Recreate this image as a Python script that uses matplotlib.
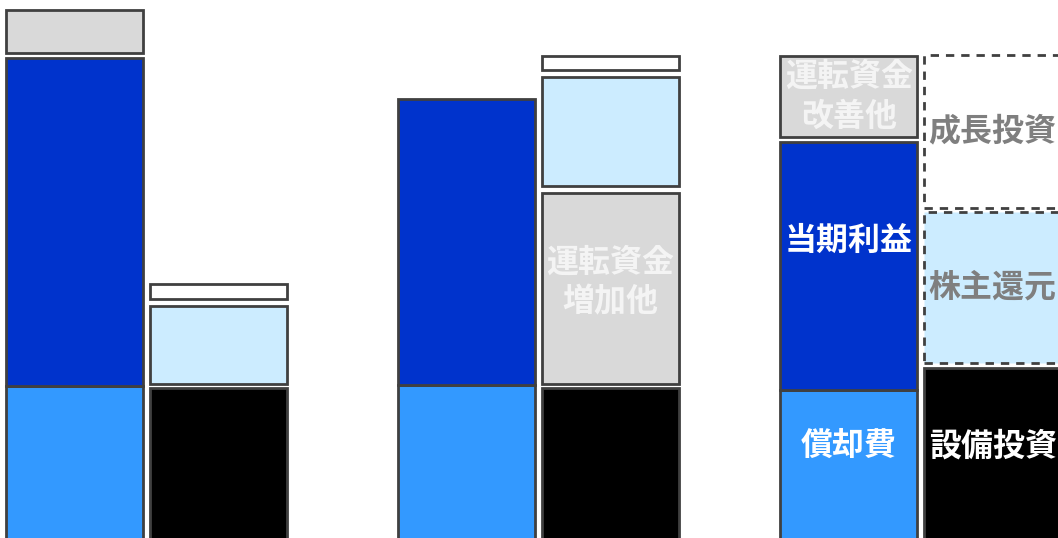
import matplotlib.pyplot as plt

plt.rcParams["font.family"] = ["Noto Sans CJK JP", "DejaVu Sans"]

# three periods, each with a sources bar (left) and a uses bar (right)
periods = ["period_1", "period_2", "period_3"]

# sources, bottom -> top
depreciation = [214.3, 215.0, 210.5]      # 償却費
net_income = [328.0, 286.3, 247.8]        # 当期利益
wc_release = [43.0, 0.0, 81.5]            # 運転資金改善他

# uses, bottom -> top
capex = [212.3, 212.5, 231.7]             # 設備投資
wc_increase = [0.0, 190.9, 0.0]           # 運転資金増加他
returns = [78.3, 109.7, 151.2]            # 株主還元
growth = [15.0, 14.7, 153.0]              # 成長投資

source_labels = ["償却費", "当期利益", "運転資金\n改善他"]
use_labels = ["設備投資", "運転資金\n増加他", "株主還元", "成長投資"]

# styles
EDGE = "#404040"
group_x = [146.3, 538.3, 920.7]
offset = 72
width = 137

sources = [
    # values, label, fill, text colour, gap above, label position (fraction)
    (depreciation, source_labels[0], "#3399FF", "white", 0.0, 0.73),
    (net_income, source_labels[1], "#0033CC", "white", 4.5, 0.60),
    (wc_release, source_labels[2], "#D9D9D9", "#F4F4F4", 0.0, 0.5),
]
uses = [
    (capex, use_labels[0], "#000000", "white", 3.7, 0.66),
    (wc_increase, use_labels[1], "#D9D9D9", "#F4F4F4", 6.5, 0.53),
    (returns, use_labels[2], "#CCECFF", "#7F7F7F", 6.4, 0.5),
    (growth, use_labels[3], "#FFFFFF", "#7F7F7F", 0.0, 0.5),
]

fig = plt.figure(figsize=(10.58, 5.38), dpi=100)
ax = fig.add_axes([0, 0, 1, 1])


def draw_stack(ax, stack, i, x, dashed_top=False):
    bottom = 0.0
    n = len(stack)
    for k, (vals, label, fill, tcol, gap, frac) in enumerate(stack):
        h = vals[i]
        if h <= 0:
            continue
        dashed = dashed_top and k >= n - 2
        ax.bar(x, h, bottom=bottom, width=width, color=fill, edgecolor=EDGE,
               linewidth=2.0, linestyle=(0, (3, 2.5)) if dashed else "-")
        show = (i == len(periods) - 1) or vals is wc_increase
        if show:
            ax.text(x, bottom + h * frac, label, ha="center", va="center",
                    color=tcol, fontsize=23, fontweight="bold", linespacing=1.33)
        bottom += h + gap


for i, gx in enumerate(group_x):
    last = i == len(periods) - 1
    draw_stack(ax, sources, i, gx - offset)
    # last period uses are plans: dashed boxes on top
    if last:
        uses_last = [list(u) for u in uses]
        uses_last[0][4] = 5.6
        uses_last[2][4] = 3.5
        draw_stack(ax, [tuple(u) for u in uses_last], i, gx + offset, dashed_top=True)
    else:
        draw_stack(ax, uses, i, gx + offset)

ax.set_xlim(0, 1058)
ax.set_ylim(62, 600)
ax.axis("off")

fig.savefig("out.png", dpi=100)
